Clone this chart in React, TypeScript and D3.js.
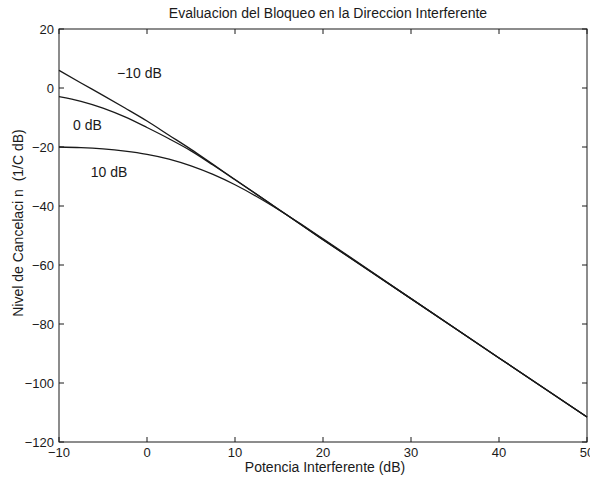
import * as d3 from 'd3';
import React, { useEffect, useRef } from 'react';

// Potencia interferente (dB), eje x
const potencia = [-10, -7.5, -5, -2.5, 0, 2.5, 5, 7.5, 10, 12.5, 15, 17.5, 20, 30, 40, 50];

// Nivel de cancelacion para cada SNR
const curvaMenos10 = [6, 1.7, -2.5, -6.8, -11.2, -16.0, -20.8, -25.9, -31.0, -36.1, -41.2, -46.3, -51.4, -71.4, -91.5, -111.5];
const curva0 = [-2.9, -4.5, -6.8, -9.8, -13.4, -17.2, -21.3, -26.1, -31.1, -36.15, -41.25, -46.35, -51.4, -71.4, -91.5, -111.5];
const curva10 = [-20, -20.2, -20.65, -21.4, -22.5, -24.1, -26.4, -29.3, -32.8, -36.85, -41.35, -46.15, -51.1, -71.4, -91.5, -111.5];

const series = [curvaMenos10, curva0, curva10];

// Etiquetas de las curvas (en coordenadas de datos)
const etiquetas = ['\u221210 dB', '0 dB', '10 dB'];
const etiquetaX = [-3.4, -8.4, -6.4];
const etiquetaY = [3.4, -14.2, -30.2];

const xTicks = [-10, 0, 10, 20, 30, 40, 50];
const yTicks = [20, 0, -20, -40, -60, -80, -100, -120];

const App = () => {
    const ref = useRef(null);
    const svgWidth = 590;
    const svgHeight = 482;
    const margin = { top: 29, right: 3, bottom: 40, left: 59 };
    const font = '"Liberation Sans", Arial, Helvetica, sans-serif';
    const ink = '#1a1a1a';

    useEffect(() => {
        const svg = d3.select(ref.current);
        svg.selectAll('*').remove();

        const x = d3.scaleLinear().domain([-10, 50]).range([margin.left, svgWidth - margin.right]);
        const y = d3.scaleLinear().domain([-120, 20]).range([svgHeight - margin.bottom, margin.top]);
        const [x0, x1] = x.range();
        const [y0, y1] = y.range();

        svg.append('rect')
            .attr('width', svgWidth)
            .attr('height', svgHeight)
            .attr('fill', 'white');

        // curvas
        const line = d3.line<number>()
            .curve(d3.curveMonotoneX)
            .x((d, i) => x(potencia[i]))
            .y(d => y(d));

        series.forEach(s => {
            svg.append('path')
                .datum(s)
                .attr('fill', 'none')
                .attr('stroke', ink)
                .attr('stroke-width', 1.3)
                .attr('d', line);
        });

        // marco
        svg.append('rect')
            .attr('x', x0)
            .attr('y', y1)
            .attr('width', x1 - x0)
            .attr('height', y0 - y1)
            .attr('fill', 'none')
            .attr('stroke', ink)
            .attr('stroke-width', 1);

        const tickLen = 5;
        // ticks x (abajo y arriba, hacia adentro)
        xTicks.forEach(t => {
            svg.append('line')
                .attr('x1', x(t)).attr('x2', x(t))
                .attr('y1', y0).attr('y2', y0 - tickLen)
                .attr('stroke', ink);
            svg.append('line')
                .attr('x1', x(t)).attr('x2', x(t))
                .attr('y1', y1).attr('y2', y1 + tickLen)
                .attr('stroke', ink);
            svg.append('text')
                .attr('x', x(t))
                .attr('y', y0 + 15)
                .attr('text-anchor', 'middle')
                .attr('font-family', font)
                .attr('font-size', 13)
                .attr('fill', ink)
                .text(String(t).replace('-', '\u2212'));
        });

        // ticks y (izquierda y derecha)
        yTicks.forEach(t => {
            svg.append('line')
                .attr('x1', x0).attr('x2', x0 + tickLen)
                .attr('y1', y(t)).attr('y2', y(t))
                .attr('stroke', ink);
            svg.append('line')
                .attr('x1', x1).attr('x2', x1 - tickLen)
                .attr('y1', y(t)).attr('y2', y(t))
                .attr('stroke', ink);
            svg.append('text')
                .attr('x', x0 - 5)
                .attr('y', y(t))
                .attr('dy', '0.35em')
                .attr('text-anchor', 'end')
                .attr('font-family', font)
                .attr('font-size', 13)
                .attr('fill', ink)
                .text(String(t).replace('-', '\u2212'));
        });

        // etiquetas de curvas
        etiquetas.forEach((e, i) => {
            svg.append('text')
                .attr('x', x(etiquetaX[i]))
                .attr('y', y(etiquetaY[i]))
                .attr('font-family', font)
                .attr('font-size', 14)
                .attr('fill', ink)
                .text(e);
        });

        // titulo
        svg.append('text')
            .attr('x', 328)
            .attr('y', 18)
            .attr('text-anchor', 'middle')
            .attr('font-family', font)
            .attr('font-size', 14)
            .attr('fill', ink)
            .text('Evaluacion del Bloqueo en la Direccion Interferente');

        // eje x
        svg.append('text')
            .attr('x', 325)
            .attr('y', 472)
            .attr('text-anchor', 'middle')
            .attr('font-family', font)
            .attr('font-size', 14)
            .attr('fill', ink)
            .text('Potencia Interferente (dB)');

        // eje y
        svg.append('text')
            .attr('transform', 'translate(23,223) rotate(-90)')
            .attr('text-anchor', 'middle')
            .attr('font-family', font)
            .attr('font-size', 14)
            .attr('fill', ink)
            .attr('xml:space', 'preserve')
            .text('Nivel de Cancelaci n  (1/C dB)');
    }, []);

    return (
        <svg
            ref={ref}
            width={svgWidth}
            height={svgHeight}
            style={{ position: 'absolute', left: 0, top: 0 }}
        />
    );
};

export default App;
